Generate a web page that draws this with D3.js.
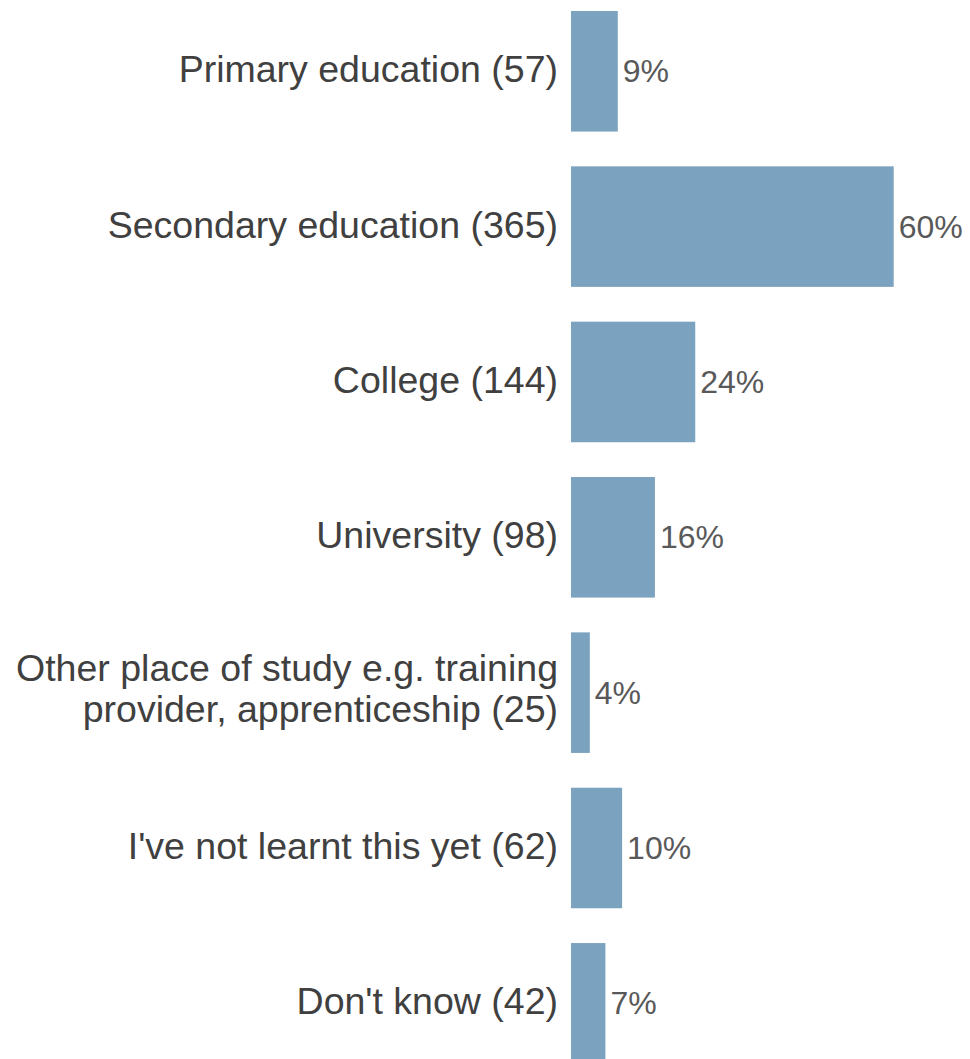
<!DOCTYPE html>
<html>
<head>
<meta charset="utf-8">
<script src="https://cdn.jsdelivr.net/npm/d3@7"></script>
<style>
  body { margin: 0; background: #fff; }
  text { font-family: "Liberation Sans", Arial, sans-serif; }
</style>
</head>
<body>
<div id="canvas"></div>
<script>
"use strict"

// categories (label lines split by \n)
const categories = [
    "Primary education (57)",
    "Secondary education (365)",
    "College (144)",
    "University (98)",
    "Other place of study e.g. training\nprovider, apprenticeship (25)",
    "I've not learnt this yet (62)",
    "Don't know (42)"
];

// bar values in percent
const values = [8.7, 60, 23.1, 15.6, 3.5, 9.5, 6.4];

// the labels printed after each bar
const pctLabels = ["9%", "60%", "24%", "16%", "4%", "10%", "7%"];

let drawing = d3.select("#canvas")
    .append("svg")
    .attr("width", 970)
    .attr("height", 1059);

let x = d3.scaleLinear()
    .domain([0, 60])
    .range([571, 893.7]);

let y = d3.scaleBand()
    .domain(categories)
    .range([-6.4, 1081])
    .paddingInner(0.224)
    .paddingOuter(0.112);

// bars
drawing.selectAll("rect.bar")
    .data(values)
    .enter()
    .append("rect")
    .attr("class", "bar")
    .attr("x", x(0))
    .attr("y", (d, i) => y(categories[i]))
    .attr("width", d => x(d) - x(0))
    .attr("height", y.bandwidth())
    .attr("fill", "#7ba2be");

// category labels on the left
let lineGap = 41;
let catLabels = drawing.selectAll("text.cat")
    .data(categories)
    .enter()
    .append("text")
    .attr("class", "cat")
    .attr("text-anchor", "end")
    .attr("font-size", 37.5)
    .attr("fill", "#404040");

catLabels.each(function (d) {
    let lines = d.split("\n");
    let mid = y(d) + y.bandwidth() / 2;
    let first = mid + 11 - (lines.length - 1) * (lineGap / 2 + 2);
    lines.forEach((line, k) => {
        d3.select(this).append("tspan")
            .attr("x", 558)
            .attr("y", first + k * lineGap)
            .text(line);
    });
});

// percent labels after bars
drawing.selectAll("text.pct")
    .data(pctLabels)
    .enter()
    .append("text")
    .attr("class", "pct")
    .attr("x", (d, i) => x(values[i]) + 5)
    .attr("y", (d, i) => y(categories[i]) + y.bandwidth() / 2 + 11)
    .attr("font-size", 32)
    .attr("fill", "#595959")
    .text(d => d);
</script>
</body>
</html>
